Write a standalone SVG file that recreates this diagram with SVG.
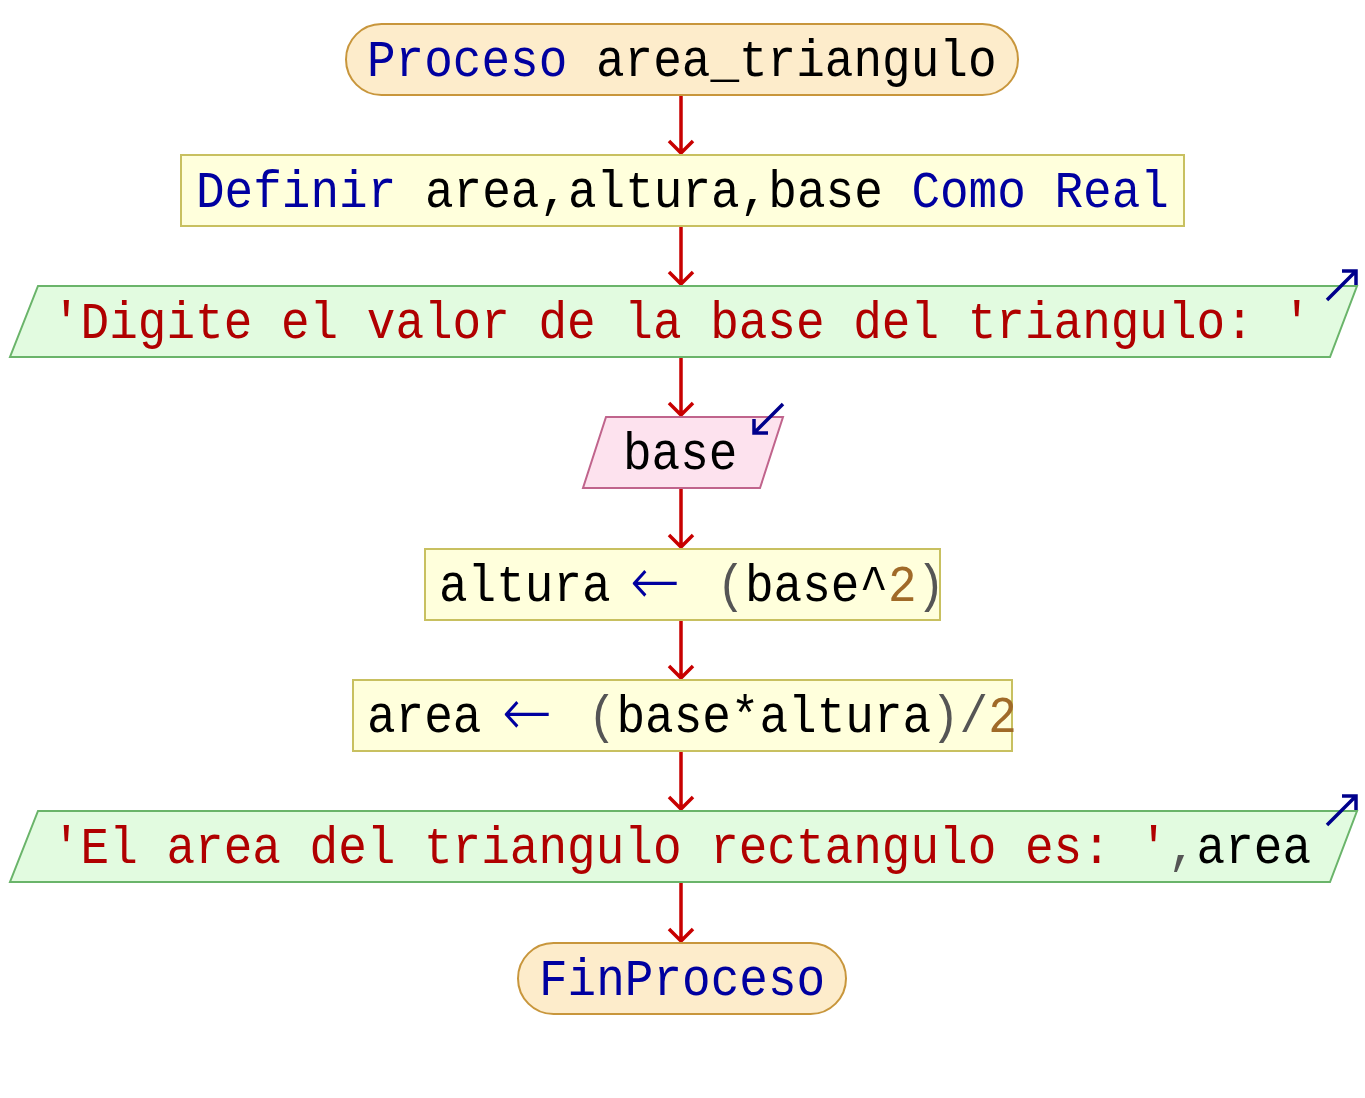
<svg xmlns="http://www.w3.org/2000/svg" width="1365" height="1098" viewBox="0 0 1365 1098">
<style>
.term{fill:#fdeccb;stroke:#c8963c;stroke-width:2}
.proc{fill:#ffffdc;stroke:#c8c060;stroke-width:2}
.out{fill:#e2fbe0;stroke:#6ab46a;stroke-width:2}
.inp{fill:#fde2ee;stroke:#c0648c;stroke-width:2}
.t{font-family:"Liberation Mono","Courier New",monospace;font-size:47.7px;fill:#000}
.k{fill:#0000a0}
.s{fill:#b00000}
.o{fill:#0000a0;font-family:"DejaVu Sans",sans-serif;font-weight:200;font-size:60px}
.n{fill:#a06a28}
.g{fill:#555555}
.flow{stroke:#c80000;stroke-width:3.5;fill:none}
.io{stroke:#00008c;stroke-width:3.5;fill:none}
</style>
<rect width="1365" height="1098" fill="#ffffff"/>
<g id="connectors">
<path class="flow" d="M681 95V153M669 141L681 153L693 141"/>
<path class="flow" d="M681 226V284M669 272L681 284L693 272"/>
<path class="flow" d="M681 357V415M669 403L681 415L693 403"/>
<path class="flow" d="M681 488V547M669 535L681 547L693 535"/>
<path class="flow" d="M681 620V678M669 666L681 678L693 666"/>
<path class="flow" d="M681 751V809M669 797L681 809L693 797"/>
<path class="flow" d="M681 882V941M669 929L681 941L693 929"/>
</g>
<g id="start">
<rect class="term" x="346" y="24" width="672" height="71" rx="35.5"/>
<text class="t" transform="translate(0,76) scale(1,1.1)"><tspan x="367" class="k">Proceso</tspan> area_triangulo</text>
</g>
<g id="definir">
<rect class="proc" x="181" y="155" width="1003" height="71"/>
<text class="t" transform="translate(0,207) scale(1,1.1)"><tspan x="196" class="k">Definir</tspan> area,altura,base <tspan class="k">Como</tspan> <tspan class="k">Real</tspan></text>
</g>
<g id="escribir1">
<polygon class="out" points="38,286 1357,286 1330,357 10,357"/>
<text class="t s" transform="translate(0,338) scale(1,1.1)" x="52">'Digite el valor de la base del triangulo: '</text>
<path class="io" d="M1327 300L1356 271M1342 271H1356V285"/>
</g>
<g id="leer">
<polygon class="inp" points="606,417 783,417 760,488 583,488"/>
<text class="t" transform="translate(0,469) scale(1,1.1)" x="623">base</text>
<path class="io" d="M783 404L754 433M754 419V433H768"/>
</g>
<g id="asig1">
<rect class="proc" x="425" y="549" width="515" height="71"/>
<text class="t" transform="translate(0,601) scale(1,1.1)"><tspan x="439">altura</tspan><tspan x="630" dy="3" class="o">←</tspan><tspan x="716.4" dy="-3" class="g">(</tspan><tspan x="745">base^</tspan><tspan x="888" class="n">2</tspan><tspan x="916.6" class="g">)</tspan></text>
</g>
<g id="asig2">
<rect class="proc" x="353" y="680" width="659" height="71"/>
<text class="t" transform="translate(0,732) scale(1,1.1)"><tspan x="367">area</tspan><tspan x="502" dy="3" class="o">←</tspan><tspan x="587.8" dy="-3" class="g">(</tspan><tspan x="616.4">base*altura</tspan><tspan x="931" class="g">)/</tspan><tspan x="988.2" class="n">2</tspan></text>
</g>
<g id="escribir2">
<polygon class="out" points="38,811 1357,811 1330,882 10,882"/>
<text class="t" transform="translate(0,863) scale(1,1.1)"><tspan x="52" class="s">'El area del triangulo rectangulo es: '</tspan><tspan class="g">,</tspan>area</text>
<path class="io" d="M1327 825L1356 796M1342 796H1356V810"/>
</g>
<g id="fin">
<rect class="term" x="518" y="943" width="328" height="71" rx="35.5"/>
<text class="t k" transform="translate(0,995) scale(1,1.1)" x="539">FinProceso</text>
</g>
</svg>
